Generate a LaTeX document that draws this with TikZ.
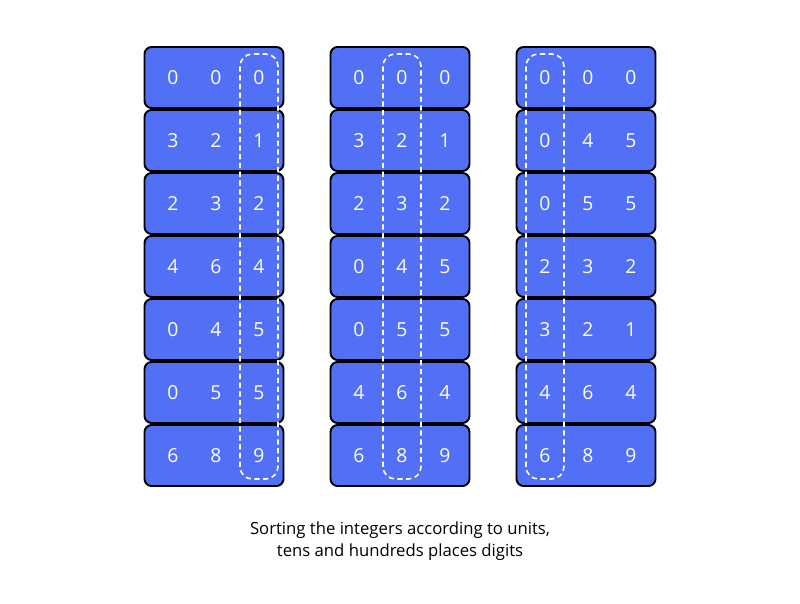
\documentclass[tikz,border=0pt]{standalone}
\usepackage{fontspec}
\setmainfont{Open Sans}
\usetikzlibrary{calc}
\definecolor{rowblue}{RGB}{82,112,246}
\tikzset{
    x=0.02cm, y=-0.02cm,
    rowbox/.style={draw=black, fill=rowblue, line width=1.1pt, rounded corners=4pt,
        minimum width=2.78cm, minimum height=1.22cm, inner sep=0pt},
    digit/.style={text=white, font=\fontsize{11}{12}\selectfont, inner sep=0pt},
    pickbox/.style={draw=white, line width=0.9pt, dash pattern=on 3pt off 2pt, rounded corners=7pt},
}

\begin{document}
\begin{tikzpicture}
    \useasboundingbox (0,0) rectangle (800,604);

    % one column per pass of the sort
    \foreach \col/\cx/\pick/\rows in {
            1/214/3/{0/0/0,3/2/1,2/3/2,4/6/4,0/4/5,0/5/5,6/8/9},
            2/400/2/{0/0/0,3/2/1,2/3/2,0/4/5,0/5/5,4/6/4,6/8/9},
            3/586/1/{0/0/0,0/4/5,0/5/5,2/3/2,3/2/1,4/6/4,6/8/9}} {
        \foreach \a/\b/\c [count=\r] in \rows {
            \node[rowbox] (b\col-\r) at (\cx, 14.5+63*\r) {};
            \node[digit] (d\col-\r-1) at ($(b\col-\r)+(-41,0.5)$) {\a};
            \node[digit] (d\col-\r-2) at ($(b\col-\r)+(2,0.5)$) {\b};
            \node[digit] (d\col-\r-3) at ($(b\col-\r)+(45,0.5)$) {\c};
        }
        \draw[pickbox] ($(d\col-1-\pick)+(-19,-24)$) rectangle ($(d\col-7-\pick)+(19,23)$);
    }

    \node[align=center, font=\fontsize{9.5}{12.5}\selectfont] (caption) at (400,541)
        {Sorting the integers according to units,\\tens and hundreds places digits};
\end{tikzpicture}
\end{document}
